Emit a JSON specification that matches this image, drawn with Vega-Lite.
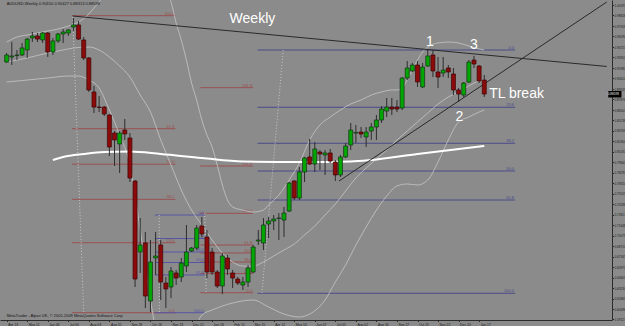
{
  "$schema": "https://vega.github.io/schema/vega-lite/v6.json",
  "width": 612,
  "height": 320,
  "autosize": {"type": "none"},
  "padding": {"left": 0, "top": 0, "right": 13, "bottom": 6},
  "background": "#8b8b8b",
  "config": {
    "view": {"stroke": null},
    "text": {"font": "Liberation Sans"},
    "axis": {"grid": false, "tickSize": 1.5, "labelPadding": 0.5, "labelFont": "Liberation Sans", "labelColor": "#1c1c1c", "domainColor": "#2c2c2c", "tickColor": "#2c2c2c", "labelOverlap": false, "labelFlush": false, "labelBound": false},
    "axisX": {"labelFontSize": 3.4},
    "axisY": {"labelFontSize": 3.1}
  },
  "datasets": {
    "candles": [
      {"date":"2008-04-13","open":0.9275,"high":0.9393,"low":0.9262,"close":0.9367},
      {"date":"2008-04-20","open":0.9341,"high":0.9537,"low":0.9236,"close":0.9354},
      {"date":"2008-04-27","open":0.9360,"high":0.9432,"low":0.9301,"close":0.9367},
      {"date":"2008-05-04","open":0.9367,"high":0.9524,"low":0.9354,"close":0.9459},
      {"date":"2008-05-11","open":0.9432,"high":0.9589,"low":0.9328,"close":0.9575},
      {"date":"2008-05-18","open":0.9589,"high":0.9667,"low":0.9537,"close":0.9615},
      {"date":"2008-05-25","open":0.9615,"high":0.9654,"low":0.9537,"close":0.9575},
      {"date":"2008-06-01","open":0.9563,"high":0.9667,"low":0.9524,"close":0.9654},
      {"date":"2008-06-08","open":0.9654,"high":0.9667,"low":0.9341,"close":0.9406},
      {"date":"2008-06-15","open":0.9406,"high":0.9589,"low":0.9367,"close":0.9550},
      {"date":"2008-06-22","open":0.9550,"high":0.9654,"low":0.9524,"close":0.9641},
      {"date":"2008-06-29","open":0.9641,"high":0.9706,"low":0.9524,"close":0.9667},
      {"date":"2008-07-06","open":0.9654,"high":0.9706,"low":0.9615,"close":0.9693},
      {"date":"2008-07-13","open":0.9732,"high":0.9850,"low":0.9680,"close":0.9759},
      {"date":"2008-07-20","open":0.9759,"high":0.9811,"low":0.9563,"close":0.9575},
      {"date":"2008-07-27","open":0.9563,"high":0.9602,"low":0.9301,"close":0.9328},
      {"date":"2008-08-03","open":0.9328,"high":0.9341,"low":0.8884,"close":0.8910},
      {"date":"2008-08-10","open":0.8884,"high":0.8962,"low":0.8609,"close":0.8687},
      {"date":"2008-08-17","open":0.8687,"high":0.8831,"low":0.8622,"close":0.8681},
      {"date":"2008-08-24","open":0.8687,"high":0.8700,"low":0.8570,"close":0.8596},
      {"date":"2008-08-31","open":0.8583,"high":0.8596,"low":0.8048,"close":0.8165},
      {"date":"2008-09-07","open":0.8348,"high":0.8374,"low":0.7917,"close":0.8257},
      {"date":"2008-09-14","open":0.8205,"high":0.8374,"low":0.7826,"close":0.8348},
      {"date":"2008-09-21","open":0.8387,"high":0.8531,"low":0.8257,"close":0.8335},
      {"date":"2008-09-28","open":0.8283,"high":0.8348,"low":0.7708,"close":0.7760},
      {"date":"2008-10-05","open":0.7721,"high":0.7734,"low":0.6337,"close":0.6441},
      {"date":"2008-10-12","open":0.6794,"high":0.7238,"low":0.6520,"close":0.6886},
      {"date":"2008-10-19","open":0.6912,"high":0.7055,"low":0.6062,"close":0.6219},
      {"date":"2008-10-26","open":0.6154,"high":0.6951,"low":0.6010,"close":0.6663},
      {"date":"2008-11-02","open":0.6716,"high":0.7055,"low":0.6494,"close":0.6742},
      {"date":"2008-11-09","open":0.6886,"high":0.6951,"low":0.6167,"close":0.6402},
      {"date":"2008-11-16","open":0.6389,"high":0.6467,"low":0.6062,"close":0.6311},
      {"date":"2008-11-23","open":0.6337,"high":0.6598,"low":0.6193,"close":0.6546},
      {"date":"2008-11-30","open":0.6520,"high":0.6559,"low":0.6363,"close":0.6454},
      {"date":"2008-12-07","open":0.6467,"high":0.6716,"low":0.6402,"close":0.6650},
      {"date":"2008-12-14","open":0.6611,"high":0.7147,"low":0.6533,"close":0.6794},
      {"date":"2008-12-21","open":0.6807,"high":0.6859,"low":0.6794,"close":0.6846},
      {"date":"2008-12-28","open":0.6846,"high":0.7147,"low":0.6820,"close":0.7107},
      {"date":"2009-01-04","open":0.7134,"high":0.7251,"low":0.6990,"close":0.7029},
      {"date":"2009-01-11","open":0.6990,"high":0.7081,"low":0.6454,"close":0.6533},
      {"date":"2009-01-18","open":0.6794,"high":0.6846,"low":0.6494,"close":0.6533},
      {"date":"2009-01-25","open":0.6533,"high":0.6559,"low":0.6324,"close":0.6350},
      {"date":"2009-02-01","open":0.6350,"high":0.6781,"low":0.6245,"close":0.6742},
      {"date":"2009-02-08","open":0.6716,"high":0.6755,"low":0.6494,"close":0.6572},
      {"date":"2009-02-15","open":0.6520,"high":0.6559,"low":0.6324,"close":0.6454},
      {"date":"2009-02-22","open":0.6441,"high":0.6467,"low":0.6363,"close":0.6389},
      {"date":"2009-03-01","open":0.6363,"high":0.6467,"low":0.6298,"close":0.6402},
      {"date":"2009-03-08","open":0.6402,"high":0.6624,"low":0.6337,"close":0.6585},
      {"date":"2009-03-15","open":0.6533,"high":0.6886,"low":0.6520,"close":0.6859},
      {"date":"2009-03-22","open":0.6938,"high":0.7081,"low":0.6886,"close":0.6951},
      {"date":"2009-03-29","open":0.6912,"high":0.7238,"low":0.6820,"close":0.7147},
      {"date":"2009-04-05","open":0.7160,"high":0.7251,"low":0.6977,"close":0.7199},
      {"date":"2009-04-12","open":0.7199,"high":0.7277,"low":0.7081,"close":0.7225},
      {"date":"2009-04-19","open":0.7232,"high":0.7303,"low":0.6951,"close":0.7238},
      {"date":"2009-04-26","open":0.7212,"high":0.7382,"low":0.6990,"close":0.7303},
      {"date":"2009-05-03","open":0.7329,"high":0.7708,"low":0.7316,"close":0.7695},
      {"date":"2009-05-10","open":0.7721,"high":0.7734,"low":0.7473,"close":0.7499},
      {"date":"2009-05-17","open":0.7499,"high":0.7904,"low":0.7473,"close":0.7839},
      {"date":"2009-05-24","open":0.7839,"high":0.8035,"low":0.7708,"close":0.8022},
      {"date":"2009-05-31","open":0.8035,"high":0.8270,"low":0.7930,"close":0.7943},
      {"date":"2009-06-07","open":0.7943,"high":0.8231,"low":0.7839,"close":0.8139},
      {"date":"2009-06-14","open":0.8100,"high":0.8126,"low":0.7865,"close":0.8074},
      {"date":"2009-06-21","open":0.8061,"high":0.8126,"low":0.7800,"close":0.8087},
      {"date":"2009-06-28","open":0.8087,"high":0.8139,"low":0.7956,"close":0.7982},
      {"date":"2009-07-05","open":0.7969,"high":0.7995,"low":0.7721,"close":0.7800},
      {"date":"2009-07-12","open":0.7800,"high":0.8061,"low":0.7773,"close":0.8035},
      {"date":"2009-07-19","open":0.8035,"high":0.8218,"low":0.8022,"close":0.8178},
      {"date":"2009-07-26","open":0.8191,"high":0.8479,"low":0.8126,"close":0.8387},
      {"date":"2009-08-02","open":0.8348,"high":0.8453,"low":0.8218,"close":0.8355},
      {"date":"2009-08-09","open":0.8361,"high":0.8426,"low":0.8283,"close":0.8335},
      {"date":"2009-08-16","open":0.8296,"high":0.8426,"low":0.8165,"close":0.8361},
      {"date":"2009-08-23","open":0.8374,"high":0.8479,"low":0.8257,"close":0.8426},
      {"date":"2009-08-30","open":0.8426,"high":0.8583,"low":0.8257,"close":0.8518},
      {"date":"2009-09-06","open":0.8518,"high":0.8700,"low":0.8479,"close":0.8661},
      {"date":"2009-09-13","open":0.8635,"high":0.8805,"low":0.8557,"close":0.8687},
      {"date":"2009-09-20","open":0.8687,"high":0.8805,"low":0.8583,"close":0.8661},
      {"date":"2009-09-27","open":0.8687,"high":0.8779,"low":0.8622,"close":0.8661},
      {"date":"2009-10-04","open":0.8674,"high":0.9079,"low":0.8648,"close":0.9066},
      {"date":"2009-10-11","open":0.9066,"high":0.9288,"low":0.9040,"close":0.9197},
      {"date":"2009-10-18","open":0.9158,"high":0.9262,"low":0.9145,"close":0.9236},
      {"date":"2009-10-25","open":0.9236,"high":0.9288,"low":0.8949,"close":0.9014},
      {"date":"2009-11-01","open":0.8949,"high":0.9262,"low":0.8936,"close":0.9210},
      {"date":"2009-11-08","open":0.9223,"high":0.9432,"low":0.9210,"close":0.9354},
      {"date":"2009-11-15","open":0.9367,"high":0.9432,"low":0.9079,"close":0.9158},
      {"date":"2009-11-22","open":0.9145,"high":0.9341,"low":0.8936,"close":0.9079},
      {"date":"2009-11-29","open":0.9132,"high":0.9341,"low":0.9079,"close":0.9171},
      {"date":"2009-12-06","open":0.9197,"high":0.9236,"low":0.9066,"close":0.9145},
      {"date":"2009-12-13","open":0.9119,"high":0.9197,"low":0.8844,"close":0.8910},
      {"date":"2009-12-20","open":0.8910,"high":0.8936,"low":0.8753,"close":0.8857},
      {"date":"2009-12-27","open":0.8844,"high":0.9014,"low":0.8818,"close":0.9001},
      {"date":"2010-01-03","open":0.9014,"high":0.9301,"low":0.9001,"close":0.9275},
      {"date":"2010-01-10","open":0.9301,"high":0.9354,"low":0.9197,"close":0.9249},
      {"date":"2010-01-17","open":0.9223,"high":0.9236,"low":0.9001,"close":0.9027},
      {"date":"2010-01-24","open":0.9040,"high":0.9106,"low":0.8818,"close":0.8857}
    ],
    "bands": [
      {"band":"upper","date":"2008-04-13","price":0.9536},{"band":"upper","date":"2008-04-27","price":0.9602},{"band":"upper","date":"2008-05-11","price":0.9628},{"band":"upper","date":"2008-05-25","price":0.9654},{"band":"upper","date":"2008-06-08","price":0.9680},{"band":"upper","date":"2008-06-22","price":0.9706},{"band":"upper","date":"2008-07-06","price":0.9745},{"band":"upper","date":"2008-07-20","price":0.9798},{"band":"upper","date":"2008-08-03","price":0.9902},{"band":"upper","date":"2008-08-10","price":0.9981},{"band":"upper","date":"2008-08-17","price":1.0059},{"band":"upper","date":"2008-08-24","price":1.0150},{"band":"upper","date":"2008-08-31","price":1.0281},{"band":"upper","date":"2008-09-14","price":1.0607},{"band":"upper","date":"2008-09-28","price":1.0869},{"band":"upper","date":"2008-10-12","price":1.0999},{"band":"upper","date":"2008-10-26","price":1.0738},{"band":"upper","date":"2008-11-09","price":1.0346},{"band":"upper","date":"2008-11-16","price":1.0163},{"band":"upper","date":"2008-11-23","price":1.0059},{"band":"upper","date":"2008-11-30","price":0.9785},{"band":"upper","date":"2008-12-07","price":0.9563},{"band":"upper","date":"2008-12-14","price":0.9301},{"band":"upper","date":"2008-12-21","price":0.9001},{"band":"upper","date":"2008-12-28","price":0.8779},{"band":"upper","date":"2009-01-04","price":0.8518},{"band":"upper","date":"2009-01-11","price":0.8322},{"band":"upper","date":"2009-01-18","price":0.8165},{"band":"upper","date":"2009-01-25","price":0.7930},{"band":"upper","date":"2009-02-01","price":0.7669},{"band":"upper","date":"2009-02-08","price":0.7473},{"band":"upper","date":"2009-02-15","price":0.7382},{"band":"upper","date":"2009-03-01","price":0.7342},{"band":"upper","date":"2009-03-15","price":0.7316},{"band":"upper","date":"2009-03-29","price":0.7342},{"band":"upper","date":"2009-04-05","price":0.7408},{"band":"upper","date":"2009-04-19","price":0.7538},{"band":"upper","date":"2009-05-03","price":0.7734},{"band":"upper","date":"2009-05-17","price":0.7956},{"band":"upper","date":"2009-05-31","price":0.8257},{"band":"upper","date":"2009-06-14","price":0.8453},{"band":"upper","date":"2009-06-28","price":0.8557},{"band":"upper","date":"2009-07-12","price":0.8648},{"band":"upper","date":"2009-07-26","price":0.8727},{"band":"upper","date":"2009-08-09","price":0.8779},{"band":"upper","date":"2009-08-23","price":0.8844},{"band":"upper","date":"2009-09-06","price":0.8884},{"band":"upper","date":"2009-09-20","price":0.8910},{"band":"upper","date":"2009-09-27","price":0.8910},{"band":"upper","date":"2009-10-04","price":0.8936},{"band":"upper","date":"2009-10-11","price":0.9040},{"band":"upper","date":"2009-10-18","price":0.9171},{"band":"upper","date":"2009-10-25","price":0.9301},{"band":"upper","date":"2009-11-01","price":0.9406},{"band":"upper","date":"2009-11-08","price":0.9471},{"band":"upper","date":"2009-11-22","price":0.9524},{"band":"upper","date":"2009-12-06","price":0.9536},{"band":"upper","date":"2009-12-20","price":0.9524},{"band":"upper","date":"2010-01-03","price":0.9484},{"band":"upper","date":"2010-01-17","price":0.9445},{"band":"upper","date":"2010-01-24","price":0.9432},
      {"band":"middle","date":"2008-04-13","price":0.9275},{"band":"middle","date":"2008-05-11","price":0.9328},{"band":"middle","date":"2008-06-08","price":0.9393},{"band":"middle","date":"2008-06-29","price":0.9432},{"band":"middle","date":"2008-07-13","price":0.9458},{"band":"middle","date":"2008-08-03","price":0.9471},{"band":"middle","date":"2008-08-17","price":0.9432},{"band":"middle","date":"2008-08-31","price":0.9341},{"band":"middle","date":"2008-09-14","price":0.9223},{"band":"middle","date":"2008-09-28","price":0.9079},{"band":"middle","date":"2008-10-12","price":0.8844},{"band":"middle","date":"2008-10-26","price":0.8622},{"band":"middle","date":"2008-11-09","price":0.8257},{"band":"middle","date":"2008-11-23","price":0.7930},{"band":"middle","date":"2008-12-07","price":0.7604},{"band":"middle","date":"2008-12-21","price":0.7342},{"band":"middle","date":"2009-01-04","price":0.7147},{"band":"middle","date":"2009-01-18","price":0.6951},{"band":"middle","date":"2009-02-01","price":0.6781},{"band":"middle","date":"2009-02-15","price":0.6663},{"band":"middle","date":"2009-03-01","price":0.6611},{"band":"middle","date":"2009-03-15","price":0.6611},{"band":"middle","date":"2009-03-29","price":0.6663},{"band":"middle","date":"2009-04-12","price":0.6742},{"band":"middle","date":"2009-04-26","price":0.6820},{"band":"middle","date":"2009-05-10","price":0.6898},{"band":"middle","date":"2009-05-24","price":0.7016},{"band":"middle","date":"2009-06-07","price":0.7133},{"band":"middle","date":"2009-06-21","price":0.7277},{"band":"middle","date":"2009-07-05","price":0.7421},{"band":"middle","date":"2009-07-19","price":0.7591},{"band":"middle","date":"2009-08-02","price":0.7760},{"band":"middle","date":"2009-08-16","price":0.7891},{"band":"middle","date":"2009-08-30","price":0.8008},{"band":"middle","date":"2009-09-13","price":0.8126},{"band":"middle","date":"2009-09-27","price":0.8257},{"band":"middle","date":"2009-10-11","price":0.8374},{"band":"middle","date":"2009-10-25","price":0.8492},{"band":"middle","date":"2009-11-08","price":0.8609},{"band":"middle","date":"2009-11-22","price":0.8727},{"band":"middle","date":"2009-12-06","price":0.8818},{"band":"middle","date":"2009-12-20","price":0.8884},{"band":"middle","date":"2010-01-03","price":0.8962},{"band":"middle","date":"2010-01-17","price":0.9027},{"band":"middle","date":"2010-01-24","price":0.9040},
      {"band":"lower","date":"2008-04-13","price":0.9014},{"band":"lower","date":"2008-05-11","price":0.9040},{"band":"lower","date":"2008-06-08","price":0.9066},{"band":"lower","date":"2008-07-06","price":0.9092},{"band":"lower","date":"2008-07-20","price":0.9092},{"band":"lower","date":"2008-08-03","price":0.9040},{"band":"lower","date":"2008-08-17","price":0.8936},{"band":"lower","date":"2008-08-31","price":0.8648},{"band":"lower","date":"2008-09-14","price":0.8322},{"band":"lower","date":"2008-09-28","price":0.7930},{"band":"lower","date":"2008-10-12","price":0.7081},{"band":"lower","date":"2008-10-26","price":0.6167},{"band":"lower","date":"2008-11-02","price":0.5775},{"band":"lower","date":"2008-11-09","price":0.5383},{"band":"lower","date":"2008-11-23","price":0.4992},{"band":"lower","date":"2008-12-07","price":0.5253},{"band":"lower","date":"2008-12-21","price":0.5645},{"band":"lower","date":"2008-12-28","price":0.5841},{"band":"lower","date":"2009-01-04","price":0.5971},{"band":"lower","date":"2009-01-18","price":0.6036},{"band":"lower","date":"2009-02-15","price":0.6128},{"band":"lower","date":"2009-03-15","price":0.6167},{"band":"lower","date":"2009-04-05","price":0.6076},{"band":"lower","date":"2009-04-26","price":0.5984},{"band":"lower","date":"2009-05-17","price":0.5945},{"band":"lower","date":"2009-05-31","price":0.5984},{"band":"lower","date":"2009-06-21","price":0.6167},{"band":"lower","date":"2009-07-05","price":0.6402},{"band":"lower","date":"2009-07-19","price":0.6624},{"band":"lower","date":"2009-08-02","price":0.6885},{"band":"lower","date":"2009-08-16","price":0.7120},{"band":"lower","date":"2009-08-30","price":0.7342},{"band":"lower","date":"2009-09-13","price":0.7525},{"band":"lower","date":"2009-09-27","price":0.7656},{"band":"lower","date":"2009-10-11","price":0.7682},{"band":"lower","date":"2009-10-25","price":0.7669},{"band":"lower","date":"2009-11-08","price":0.7734},{"band":"lower","date":"2009-11-22","price":0.7969},{"band":"lower","date":"2009-12-06","price":0.8257},{"band":"lower","date":"2009-12-20","price":0.8492},{"band":"lower","date":"2010-01-03","price":0.8557},{"band":"lower","date":"2010-01-17","price":0.8622},{"band":"lower","date":"2010-01-24","price":0.8648}
    ],
    "ma": [
      {"date":"2008-06-15","price":0.7995},{"date":"2008-06-29","price":0.8035},{"date":"2008-07-27","price":0.8074},{"date":"2008-08-24","price":0.8100},{"date":"2008-09-28","price":0.8106},{"date":"2008-11-09","price":0.8074},{"date":"2009-01-04","price":0.8022},{"date":"2009-03-01","price":0.7976},{"date":"2009-05-17","price":0.7969},{"date":"2009-07-26","price":0.7976},{"date":"2009-08-23","price":0.7995},{"date":"2009-10-25","price":0.8074},{"date":"2010-01-24","price":0.8178}
    ],
    "fib": [
      {"tool":"A","start":"2008-07-11","end":"2008-11-29","price":0.9880,"label":"100.0"},
      {"tool":"A","start":"2008-07-11","end":"2008-11-29","price":0.8404,"label":"61.8"},
      {"tool":"A","start":"2008-07-11","end":"2008-11-29","price":0.7941,"label":"50.0"},
      {"tool":"A","start":"2008-07-11","end":"2008-11-29","price":0.7482,"label":"38.2"},
      {"tool":"A","start":"2008-07-11","end":"2008-11-29","price":0.6915,"label":"23.6"},
      {"tool":"A","start":"2008-07-11","end":"2008-11-29","price":0.6001,"label":"0.0"},
      {"tool":"B","start":"2009-01-02","end":"2009-03-15","price":0.8940,"label":"261.8"},
      {"tool":"B","start":"2009-01-02","end":"2009-03-15","price":0.7917,"label":"161.8"},
      {"tool":"B","start":"2009-01-02","end":"2009-03-15","price":0.7299,"label":"100.0"},
      {"tool":"B","start":"2009-01-02","end":"2009-03-15","price":0.6885,"label":"61.8"},
      {"tool":"B","start":"2009-01-02","end":"2009-03-15","price":0.6781,"label":"50.0"},
      {"tool":"B","start":"2009-01-02","end":"2009-03-15","price":0.6663,"label":"38.2"},
      {"tool":"B","start":"2009-01-02","end":"2009-03-15","price":0.6513,"label":"23.6"},
      {"tool":"B","start":"2009-01-02","end":"2009-03-15","price":0.6262,"label":"0.0"},
      {"tool":"C","start":"2008-11-01","end":"2009-01-08","price":0.7277,"label":"0.0"},
      {"tool":"C","start":"2008-11-01","end":"2009-01-08","price":0.6970,"label":"23.6"},
      {"tool":"C","start":"2008-11-01","end":"2009-01-08","price":0.6794,"label":"38.2"},
      {"tool":"C","start":"2008-11-01","end":"2009-01-08","price":0.6657,"label":"50.0"},
      {"tool":"C","start":"2008-11-01","end":"2009-01-08","price":0.6494,"label":"61.8"},
      {"tool":"C","start":"2008-11-01","end":"2009-01-08","price":0.6001,"label":"100.0"},
      {"tool":"D","start":"2009-03-21","end":"2010-03-07","price":0.9432,"label":"0.0"},
      {"tool":"D","start":"2009-03-21","end":"2010-03-07","price":0.8684,"label":"23.6"},
      {"tool":"D","start":"2009-03-21","end":"2010-03-07","price":0.8214,"label":"38.2"},
      {"tool":"D","start":"2009-03-21","end":"2010-03-07","price":0.7852,"label":"50.0"},
      {"tool":"D","start":"2009-03-21","end":"2010-03-07","price":0.7473,"label":"61.8"},
      {"tool":"D","start":"2009-03-21","end":"2010-03-07","price":0.6255,"label":"100.0"}
    ],
    "diag": [
      {"start":"2008-07-12","end":"2008-07-27","p1":0.9863,"p2":0.6007},
      {"start":"2008-11-07","end":"2008-11-07","p1":0.7277,"p2":0.6007},
      {"start":"2009-01-08","end":"2009-01-10","p1":0.7303,"p2":0.6258},
      {"start":"2009-04-25","end":"2009-03-27","p1":0.9432,"p2":0.6258}
    ],
    "trend": [
      {"start":"2008-07-12","end":"2010-07-10","p1":0.9876,"p2":0.9217},
      {"start":"2009-07-10","end":"2010-07-10","p1":0.7721,"p2":1.0059}
    ],
    "notes": [
      {"date":"2009-03-14","price":0.9785,"text":"Weekly"},
      {"date":"2009-11-11","price":0.9484,"text":"1"},
      {"date":"2010-01-10","price":0.9445,"text":"3"},
      {"date":"2009-12-21","price":0.8505,"text":"2"},
      {"date":"2010-03-09","price":0.8805,"text":"TL break"}
    ],
    "small": [
      {"date":"2008-04-13","price":1.0039,"text":"AUDUSD,Weekly  0.90150 0.90427 0.88313 0.88598"},
      {"date":"2008-04-13","price":0.5952,"text":"MetaTrader - Alpari UK, © 2001-2009 MetaQuotes Software Corp."}
    ],
    "last": [
      {"start":"2010-07-12","end":"2010-07-30","p1":0.8897,"p2":0.8812,"mid":"2010-07-19","price":0.88545,"text":"0.88598"}
    ]
  },
  "layer": [
    {
      "data": {"name": "fib"},
      "mark": {"type": "rule", "strokeWidth": 1},
      "encoding": {
        "x": {"field": "start", "type": "temporal", "scale": {"type": "utc", "domain": [1207847800000, 1278746000000]}, "axis": {"orient": "bottom", "title": null, "values": [1208044800000,1210464000000,1212883200000,1215302400000,1217721600000,1220140800000,1222560000000,1224979200000,1227398400000,1229817600000,1232236800000,1234656000000,1237075200000,1239494400000,1241913600000,1244332800000,1246752000000,1249171200000,1251590400000,1254009600000,1256428800000,1258848000000,1261267200000,1263686400000], "format": "%-d %b %Y", "formatType": "utc", "labelAlign": "left", "labelBaseline": "top", "labelOffset": 1}},
        "x2": {"field": "end"},
        "y": {"field": "price", "type": "quantitative", "scale": {"domain": [0.5906, 1.0085], "zero": false, "nice": false}, "axis": {"orient": "right", "title": null, "values": [1.00197,0.98828,0.97459,0.96090,0.94721,0.93352,0.91983,0.90614,0.89245,0.87876,0.86507,0.85138,0.83769,0.82400,0.81031,0.79662,0.78293,0.76924,0.75555,0.74186,0.72817,0.71448,0.70079,0.68710,0.67341,0.65972,0.64603,0.63234,0.61865,0.60496,0.59127], "format": ".5f", "labelBaseline": "middle"}},
        "color": {"field": "tool", "type": "nominal", "scale": {"domain": ["A", "B", "C", "D"], "range": ["#9a5050", "#9a5050", "#5656a6", "#4a4a8a"]}, "legend": null}
      }
    },
    {
      "data": {"name": "fib"},
      "mark": {"type": "text", "align": "right", "baseline": "bottom", "dx": -1, "dy": 0, "fontSize": 4, "font": "Liberation Sans"},
      "encoding": {
        "x": {"field": "end", "type": "temporal", "scale": {"type": "utc", "domain": [1207847800000, 1278746000000]}, "axis": {"orient": "bottom", "title": null, "values": [1208044800000,1210464000000,1212883200000,1215302400000,1217721600000,1220140800000,1222560000000,1224979200000,1227398400000,1229817600000,1232236800000,1234656000000,1237075200000,1239494400000,1241913600000,1244332800000,1246752000000,1249171200000,1251590400000,1254009600000,1256428800000,1258848000000,1261267200000,1263686400000], "format": "%-d %b %Y", "formatType": "utc", "labelAlign": "left", "labelBaseline": "top", "labelOffset": 1}},
        "y": {"field": "price", "type": "quantitative", "scale": {"domain": [0.5906, 1.0085], "zero": false, "nice": false}, "axis": {"orient": "right", "title": null, "values": [1.00197,0.98828,0.97459,0.96090,0.94721,0.93352,0.91983,0.90614,0.89245,0.87876,0.86507,0.85138,0.83769,0.82400,0.81031,0.79662,0.78293,0.76924,0.75555,0.74186,0.72817,0.71448,0.70079,0.68710,0.67341,0.65972,0.64603,0.63234,0.61865,0.60496,0.59127], "format": ".5f", "labelBaseline": "middle"}},
        "text": {"field": "label"},
        "color": {"field": "tool", "type": "nominal", "scale": {"domain": ["A", "B", "C", "D"], "range": ["#9a5050", "#9a5050", "#5656a6", "#4a4a8a"]}, "legend": null}
      }
    },
    {
      "data": {"name": "diag"},
      "mark": {"type": "rule", "strokeWidth": 0.8, "strokeDash": [1, 2], "color": "#d4d4d4"},
      "encoding": {
        "x": {"field": "start", "type": "temporal", "scale": {"type": "utc", "domain": [1207847800000, 1278746000000]}, "axis": {"orient": "bottom", "title": null, "values": [1208044800000,1210464000000,1212883200000,1215302400000,1217721600000,1220140800000,1222560000000,1224979200000,1227398400000,1229817600000,1232236800000,1234656000000,1237075200000,1239494400000,1241913600000,1244332800000,1246752000000,1249171200000,1251590400000,1254009600000,1256428800000,1258848000000,1261267200000,1263686400000], "format": "%-d %b %Y", "formatType": "utc", "labelAlign": "left", "labelBaseline": "top", "labelOffset": 1}},
        "x2": {"field": "end"},
        "y": {"field": "p1", "type": "quantitative", "scale": {"domain": [0.5906, 1.0085], "zero": false, "nice": false}, "axis": {"orient": "right", "title": null, "values": [1.00197,0.98828,0.97459,0.96090,0.94721,0.93352,0.91983,0.90614,0.89245,0.87876,0.86507,0.85138,0.83769,0.82400,0.81031,0.79662,0.78293,0.76924,0.75555,0.74186,0.72817,0.71448,0.70079,0.68710,0.67341,0.65972,0.64603,0.63234,0.61865,0.60496,0.59127], "format": ".5f", "labelBaseline": "middle"}},
        "y2": {"field": "p2"}
      }
    },
    {
      "data": {"name": "bands"},
      "mark": {"type": "line", "clip": true, "strokeWidth": 0.8, "color": "#c6c6c6", "interpolate": "monotone"},
      "encoding": {
        "x": {"field": "date", "type": "temporal", "scale": {"type": "utc", "domain": [1207847800000, 1278746000000]}, "axis": {"orient": "bottom", "title": null, "values": [1208044800000,1210464000000,1212883200000,1215302400000,1217721600000,1220140800000,1222560000000,1224979200000,1227398400000,1229817600000,1232236800000,1234656000000,1237075200000,1239494400000,1241913600000,1244332800000,1246752000000,1249171200000,1251590400000,1254009600000,1256428800000,1258848000000,1261267200000,1263686400000], "format": "%-d %b %Y", "formatType": "utc", "labelAlign": "left", "labelBaseline": "top", "labelOffset": 1}},
        "y": {"field": "price", "type": "quantitative", "scale": {"domain": [0.5906, 1.0085], "zero": false, "nice": false}, "axis": {"orient": "right", "title": null, "values": [1.00197,0.98828,0.97459,0.96090,0.94721,0.93352,0.91983,0.90614,0.89245,0.87876,0.86507,0.85138,0.83769,0.82400,0.81031,0.79662,0.78293,0.76924,0.75555,0.74186,0.72817,0.71448,0.70079,0.68710,0.67341,0.65972,0.64603,0.63234,0.61865,0.60496,0.59127], "format": ".5f", "labelBaseline": "middle"}},
        "detail": {"field": "band"}
      }
    },
    {
      "data": {"name": "ma"},
      "mark": {"type": "line", "clip": true, "strokeWidth": 2, "color": "#ffffff", "interpolate": "monotone"},
      "encoding": {
        "x": {"field": "date", "type": "temporal", "scale": {"type": "utc", "domain": [1207847800000, 1278746000000]}, "axis": {"orient": "bottom", "title": null, "values": [1208044800000,1210464000000,1212883200000,1215302400000,1217721600000,1220140800000,1222560000000,1224979200000,1227398400000,1229817600000,1232236800000,1234656000000,1237075200000,1239494400000,1241913600000,1244332800000,1246752000000,1249171200000,1251590400000,1254009600000,1256428800000,1258848000000,1261267200000,1263686400000], "format": "%-d %b %Y", "formatType": "utc", "labelAlign": "left", "labelBaseline": "top", "labelOffset": 1}},
        "y": {"field": "price", "type": "quantitative", "scale": {"domain": [0.5906, 1.0085], "zero": false, "nice": false}, "axis": {"orient": "right", "title": null, "values": [1.00197,0.98828,0.97459,0.96090,0.94721,0.93352,0.91983,0.90614,0.89245,0.87876,0.86507,0.85138,0.83769,0.82400,0.81031,0.79662,0.78293,0.76924,0.75555,0.74186,0.72817,0.71448,0.70079,0.68710,0.67341,0.65972,0.64603,0.63234,0.61865,0.60496,0.59127], "format": ".5f", "labelBaseline": "middle"}}
      }
    },
    {
      "data": {"name": "trend"},
      "mark": {"type": "rule", "clip": true, "strokeWidth": 1, "color": "#2a2a2a"},
      "encoding": {
        "x": {"field": "start", "type": "temporal", "scale": {"type": "utc", "domain": [1207847800000, 1278746000000]}, "axis": {"orient": "bottom", "title": null, "values": [1208044800000,1210464000000,1212883200000,1215302400000,1217721600000,1220140800000,1222560000000,1224979200000,1227398400000,1229817600000,1232236800000,1234656000000,1237075200000,1239494400000,1241913600000,1244332800000,1246752000000,1249171200000,1251590400000,1254009600000,1256428800000,1258848000000,1261267200000,1263686400000], "format": "%-d %b %Y", "formatType": "utc", "labelAlign": "left", "labelBaseline": "top", "labelOffset": 1}},
        "x2": {"field": "end"},
        "y": {"field": "p1", "type": "quantitative", "scale": {"domain": [0.5906, 1.0085], "zero": false, "nice": false}, "axis": {"orient": "right", "title": null, "values": [1.00197,0.98828,0.97459,0.96090,0.94721,0.93352,0.91983,0.90614,0.89245,0.87876,0.86507,0.85138,0.83769,0.82400,0.81031,0.79662,0.78293,0.76924,0.75555,0.74186,0.72817,0.71448,0.70079,0.68710,0.67341,0.65972,0.64603,0.63234,0.61865,0.60496,0.59127], "format": ".5f", "labelBaseline": "middle"}},
        "y2": {"field": "p2"}
      }
    },
    {
      "data": {"name": "candles"},
      "mark": {"type": "rule", "strokeWidth": 1, "color": "#2e2e2e"},
      "encoding": {
        "x": {"field": "date", "type": "temporal", "scale": {"type": "utc", "domain": [1207847800000, 1278746000000]}, "axis": {"orient": "bottom", "title": null, "values": [1208044800000,1210464000000,1212883200000,1215302400000,1217721600000,1220140800000,1222560000000,1224979200000,1227398400000,1229817600000,1232236800000,1234656000000,1237075200000,1239494400000,1241913600000,1244332800000,1246752000000,1249171200000,1251590400000,1254009600000,1256428800000,1258848000000,1261267200000,1263686400000], "format": "%-d %b %Y", "formatType": "utc", "labelAlign": "left", "labelBaseline": "top", "labelOffset": 1}},
        "y": {"field": "low", "type": "quantitative", "scale": {"domain": [0.5906, 1.0085], "zero": false, "nice": false}, "axis": {"orient": "right", "title": null, "values": [1.00197,0.98828,0.97459,0.96090,0.94721,0.93352,0.91983,0.90614,0.89245,0.87876,0.86507,0.85138,0.83769,0.82400,0.81031,0.79662,0.78293,0.76924,0.75555,0.74186,0.72817,0.71448,0.70079,0.68710,0.67341,0.65972,0.64603,0.63234,0.61865,0.60496,0.59127], "format": ".5f", "labelBaseline": "middle"}},
        "y2": {"field": "high"}
      }
    },
    {
      "data": {"name": "candles"},
      "mark": {"type": "bar", "size": 4, "strokeWidth": 0.7},
      "encoding": {
        "x": {"field": "date", "type": "temporal", "scale": {"type": "utc", "domain": [1207847800000, 1278746000000]}, "axis": {"orient": "bottom", "title": null, "values": [1208044800000,1210464000000,1212883200000,1215302400000,1217721600000,1220140800000,1222560000000,1224979200000,1227398400000,1229817600000,1232236800000,1234656000000,1237075200000,1239494400000,1241913600000,1244332800000,1246752000000,1249171200000,1251590400000,1254009600000,1256428800000,1258848000000,1261267200000,1263686400000], "format": "%-d %b %Y", "formatType": "utc", "labelAlign": "left", "labelBaseline": "top", "labelOffset": 1}},
        "y": {"field": "open", "type": "quantitative", "scale": {"domain": [0.5906, 1.0085], "zero": false, "nice": false}, "axis": {"orient": "right", "title": null, "values": [1.00197,0.98828,0.97459,0.96090,0.94721,0.93352,0.91983,0.90614,0.89245,0.87876,0.86507,0.85138,0.83769,0.82400,0.81031,0.79662,0.78293,0.76924,0.75555,0.74186,0.72817,0.71448,0.70079,0.68710,0.67341,0.65972,0.64603,0.63234,0.61865,0.60496,0.59127], "format": ".5f", "labelBaseline": "middle"}},
        "y2": {"field": "close"},
        "color": {"condition": {"test": "datum.close >= datum.open", "value": "#02a602"}, "value": "#8c0a0a"},
        "stroke": {"condition": {"test": "datum.close >= datum.open", "value": "#163016"}, "value": "#3c0606"}
      }
    },
    {
      "data": {"name": "notes"},
      "mark": {"type": "text", "fontSize": 14, "color": "#ffffff", "align": "center", "baseline": "alphabetic", "font": "Liberation Sans"},
      "encoding": {
        "x": {"field": "date", "type": "temporal", "scale": {"type": "utc", "domain": [1207847800000, 1278746000000]}, "axis": {"orient": "bottom", "title": null, "values": [1208044800000,1210464000000,1212883200000,1215302400000,1217721600000,1220140800000,1222560000000,1224979200000,1227398400000,1229817600000,1232236800000,1234656000000,1237075200000,1239494400000,1241913600000,1244332800000,1246752000000,1249171200000,1251590400000,1254009600000,1256428800000,1258848000000,1261267200000,1263686400000], "format": "%-d %b %Y", "formatType": "utc", "labelAlign": "left", "labelBaseline": "top", "labelOffset": 1}},
        "y": {"field": "price", "type": "quantitative", "scale": {"domain": [0.5906, 1.0085], "zero": false, "nice": false}, "axis": {"orient": "right", "title": null, "values": [1.00197,0.98828,0.97459,0.96090,0.94721,0.93352,0.91983,0.90614,0.89245,0.87876,0.86507,0.85138,0.83769,0.82400,0.81031,0.79662,0.78293,0.76924,0.75555,0.74186,0.72817,0.71448,0.70079,0.68710,0.67341,0.65972,0.64603,0.63234,0.61865,0.60496,0.59127], "format": ".5f", "labelBaseline": "middle"}},
        "text": {"field": "text"}
      }
    },
    {
      "data": {"name": "small"},
      "mark": {"type": "text", "fontSize": 4, "color": "#151515", "align": "left", "baseline": "middle", "font": "Liberation Sans"},
      "encoding": {
        "x": {"field": "date", "type": "temporal", "scale": {"type": "utc", "domain": [1207847800000, 1278746000000]}, "axis": {"orient": "bottom", "title": null, "values": [1208044800000,1210464000000,1212883200000,1215302400000,1217721600000,1220140800000,1222560000000,1224979200000,1227398400000,1229817600000,1232236800000,1234656000000,1237075200000,1239494400000,1241913600000,1244332800000,1246752000000,1249171200000,1251590400000,1254009600000,1256428800000,1258848000000,1261267200000,1263686400000], "format": "%-d %b %Y", "formatType": "utc", "labelAlign": "left", "labelBaseline": "top", "labelOffset": 1}},
        "y": {"field": "price", "type": "quantitative", "scale": {"domain": [0.5906, 1.0085], "zero": false, "nice": false}, "axis": {"orient": "right", "title": null, "values": [1.00197,0.98828,0.97459,0.96090,0.94721,0.93352,0.91983,0.90614,0.89245,0.87876,0.86507,0.85138,0.83769,0.82400,0.81031,0.79662,0.78293,0.76924,0.75555,0.74186,0.72817,0.71448,0.70079,0.68710,0.67341,0.65972,0.64603,0.63234,0.61865,0.60496,0.59127], "format": ".5f", "labelBaseline": "middle"}},
        "text": {"field": "text"}
      }
    },
    {
      "data": {"name": "last"},
      "mark": {"type": "rect", "color": "#000000"},
      "encoding": {
        "x": {"field": "start", "type": "temporal", "scale": {"type": "utc", "domain": [1207847800000, 1278746000000]}, "axis": {"orient": "bottom", "title": null, "values": [1208044800000,1210464000000,1212883200000,1215302400000,1217721600000,1220140800000,1222560000000,1224979200000,1227398400000,1229817600000,1232236800000,1234656000000,1237075200000,1239494400000,1241913600000,1244332800000,1246752000000,1249171200000,1251590400000,1254009600000,1256428800000,1258848000000,1261267200000,1263686400000], "format": "%-d %b %Y", "formatType": "utc", "labelAlign": "left", "labelBaseline": "top", "labelOffset": 1}},
        "x2": {"field": "end"},
        "y": {"field": "p1", "type": "quantitative", "scale": {"domain": [0.5906, 1.0085], "zero": false, "nice": false}, "axis": {"orient": "right", "title": null, "values": [1.00197,0.98828,0.97459,0.96090,0.94721,0.93352,0.91983,0.90614,0.89245,0.87876,0.86507,0.85138,0.83769,0.82400,0.81031,0.79662,0.78293,0.76924,0.75555,0.74186,0.72817,0.71448,0.70079,0.68710,0.67341,0.65972,0.64603,0.63234,0.61865,0.60496,0.59127], "format": ".5f", "labelBaseline": "middle"}},
        "y2": {"field": "p2"}
      }
    },
    {
      "data": {"name": "last"},
      "mark": {"type": "text", "fontSize": 3.1, "color": "#e8e8e8", "align": "center", "baseline": "middle", "font": "Liberation Sans"},
      "encoding": {
        "x": {"field": "mid", "type": "temporal", "scale": {"type": "utc", "domain": [1207847800000, 1278746000000]}, "axis": {"orient": "bottom", "title": null, "values": [1208044800000,1210464000000,1212883200000,1215302400000,1217721600000,1220140800000,1222560000000,1224979200000,1227398400000,1229817600000,1232236800000,1234656000000,1237075200000,1239494400000,1241913600000,1244332800000,1246752000000,1249171200000,1251590400000,1254009600000,1256428800000,1258848000000,1261267200000,1263686400000], "format": "%-d %b %Y", "formatType": "utc", "labelAlign": "left", "labelBaseline": "top", "labelOffset": 1}},
        "y": {"field": "price", "type": "quantitative", "scale": {"domain": [0.5906, 1.0085], "zero": false, "nice": false}, "axis": {"orient": "right", "title": null, "values": [1.00197,0.98828,0.97459,0.96090,0.94721,0.93352,0.91983,0.90614,0.89245,0.87876,0.86507,0.85138,0.83769,0.82400,0.81031,0.79662,0.78293,0.76924,0.75555,0.74186,0.72817,0.71448,0.70079,0.68710,0.67341,0.65972,0.64603,0.63234,0.61865,0.60496,0.59127], "format": ".5f", "labelBaseline": "middle"}},
        "text": {"field": "text"}
      }
    }
  ]
}
